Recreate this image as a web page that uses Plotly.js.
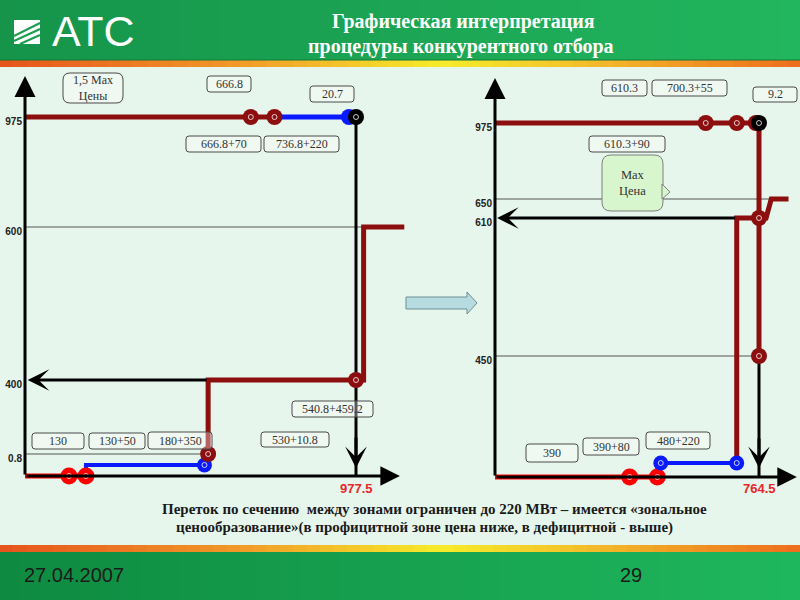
<!DOCTYPE html>
<html><head><meta charset="utf-8">
<script src="https://cdn.plot.ly/plotly-3.0.1.min.js"></script>
<style>html,body{margin:0;padding:0;background:#e6f6ec;}#chart{width:800px;height:600px;}</style>
</head><body><div id="chart"></div>
<script>
// ================= DATA =================
// price-axis tick labels
const leftPriceTicks  = [975, 600, 400, 0.8];
const leftPriceLabels = ['975', '600', '400', '0.8'];
const rightPriceTicks  = [975, 650, 610, 450];
const rightPriceLabels = ['975', '650', '610', '450'];

// ---- left zone: supply (offers), MW cumulative / price
const leftSupRedX  = [0, 180];            const leftSupRedY  = [0, 0];
const leftSupRedDotX = [130, 180];        const leftSupRedDotY = [0, 0];
const leftSupBlueX = [180, 180, 530];     const leftSupBlueY = [0, 0.4, 0.4];
const leftSupBlueDotX = [530];            const leftSupBlueDotY = [0.4];
const leftSupDarkX = [530, 540.8, 540.8, 1000, 1000, 1120];
const leftSupDarkY = [0.4, 0.8, 400, 400, 600, 600];
const leftSupDarkDotX = [540.8, 977.5];   const leftSupDarkDotY = [0.8, 400];
// ---- left zone: demand (bids)
const leftDemDarkX = [0, 736.8];          const leftDemDarkY = [975, 975];
const leftDemDarkDotX = [666.8, 736.8];
const leftDemBlueX = [736.8, 956.8];      const leftDemBlueY = [975, 975];
const leftDemBlueDotX = [956.8];
const leftDemBlackX = [956.8, 977.5];     const leftDemBlackY = [975, 975];
const leftDemBlackDotX = [977.5];
const leftDemVertX = [977.5, 977.5];      const leftDemVertY = [975, 0];
const leftFlowX = [540.8, 0];             const leftFlowPrice = 400;
const leftTotal = 977.5;

// ---- right zone: supply
const rightSupRedX = [0, 470];            const rightSupRedY = [0, 0];
const rightSupRedDotX = [390, 470];       const rightSupRedDotY = [0, 0];
const rightSupBlueX = [470, 470, 700];    const rightSupBlueY = [0, 0.4, 0.4];
const rightSupBlueDotX = [480, 700];      const rightSupBlueDotY = [0.4, 0.4];
const rightSupDarkX = [700, 700, 785, 800, 850];
const rightSupDarkY = [0.4, 610, 610, 650, 650];
const rightSupDarkDotX = [764.5];         const rightSupDarkDotY = [610];
// ---- right zone: demand
const rightDemDarkX = [0, 755.3];         const rightDemDarkY = [975, 975];
const rightDemDarkDotX = [610.3, 700.3, 755.3];
const rightDemBlackX = [755.3, 764.5];    const rightDemBlackY = [975, 975];
const rightDemBlackDotX = [764.5];
const rightDemVertX = [764.5, 764.5];     const rightDemVertY = [975, 450];
const rightDemVertDotX = [764.5];         const rightDemVertDotY = [450];
const rightDemLowX = [764.5, 764.5];      const rightDemLowY = [450, 0];
const rightFlowX = [700, 0];              const rightFlowPrice = 610;
const rightTotal = 764.5;

// callout texts
const leftBoxTexts  = ['1,5 Max<br>Цены', '666.8', '20.7', '666.8+70', '736.8+220', '540.8+459.2', '530+10.8', '130', '130+50', '180+350'];
const rightBoxTexts = ['610.3', '700.3+55', '9.2', '610.3+90', '390', '390+80', '480+220'];
const maxPriceText = 'Max<br>Цена';
const titleLines = ['Графическая интерпретация', 'процедуры конкурентного отбора'];
const noteLines = ['Переток по сечению  между зонами ограничен до 220 МВт – имеется «зональное',
                   'ценообразование»(в профицитной зоне цена ниже, в дефицитной - выше)'];
const footerDate = '27.04.2007';
const footerPage = '29';

// ================= STYLE / LAYOUT =================
const W = 800, H = 600;
const Xp = x => x / W, Yp = y => 1 - y / H;
const DARK = '#8c0e0e', RED = '#ff0000', BLUE = '#0a1aff', BLACK = '#000000';

// schematic (not-to-scale) price axes: price anchors -> vertical position
function schematic(prices, pos) {
  return p => {
    for (let i = 0; i < prices.length - 1; i++) {
      if (p <= prices[i + 1]) {
        const t = (p - prices[i]) / (prices[i + 1] - prices[i]);
        return pos[i] + t * (pos[i + 1] - pos[i]);
      }
    }
    return pos[pos.length - 1];
  };
}
const yL = schematic([0, 0.8, 400, 600, 975], [476, 454, 380, 227, 117]);
const yR = schematic([0, 0.8, 450, 610, 650, 975], [477, 449, 356, 218, 199, 123]);

// quantity axes (linear, MW)
const sL = 0.33862, oL = 25, sR = 0.34533, oR = 495, split = 410;

const traces = [];
function line(xs, ys, color, width, side) {
  const f = side === 'L' ? yL : yR;
  traces.push({type: 'scatter', mode: 'lines', x: xs, y: ys.map(f),
    xaxis: side === 'L' ? 'x' : 'x2', yaxis: side === 'L' ? 'y' : 'y2',
    line: {color: color, width: width, shape: 'linear'}, hoverinfo: 'skip'});
}
function dots(xs, ys, color, size, side, ring) {
  const f = side === 'L' ? yL : yR;
  const ax = side === 'L' ? 'x' : 'x2', ay = side === 'L' ? 'y' : 'y2';
  traces.push({type: 'scatter', mode: 'markers', x: xs, y: ys.map(f), xaxis: ax, yaxis: ay,
    marker: {color: color, size: size, line: {width: 0}}, hoverinfo: 'skip'});
  if (ring !== false) traces.push({type: 'scatter', mode: 'markers', x: xs, y: ys.map(f), xaxis: ax, yaxis: ay,
    marker: {symbol: 'circle-open', color: 'rgba(255,255,255,0.85)', size: 5, line: {width: 0.9, color: 'rgba(255,255,255,0.85)'}}, hoverinfo: 'skip'});
}
const rep = (arr, v) => arr.map(() => v);

// left panel
line(leftDemVertX, leftDemVertY, BLACK, 3, 'L');
line(leftSupRedX, leftSupRedY, RED, 5, 'L');
line(leftSupBlueX, leftSupBlueY, BLUE, 4, 'L');
line(leftSupDarkX, leftSupDarkY, DARK, 5, 'L');
line(leftDemDarkX, leftDemDarkY, DARK, 5, 'L');
line(leftDemBlueX, leftDemBlueY, BLUE, 5, 'L');
line(leftDemBlackX, leftDemBlackY, BLACK, 5, 'L');
dots(leftSupRedDotX, leftSupRedDotY, RED, 17, 'L');
dots(leftSupBlueDotX, leftSupBlueDotY, BLUE, 15, 'L');
dots(leftSupDarkDotX, leftSupDarkDotY, DARK, 16, 'L');
dots(leftDemDarkDotX, rep(leftDemDarkDotX, 975), DARK, 16, 'L');
dots(leftDemBlueDotX, rep(leftDemBlueDotX, 975), BLUE, 16, 'L', false);
dots(leftDemBlackDotX, rep(leftDemBlackDotX, 975), BLACK, 16, 'L');
// right panel
line(rightDemVertX, rightDemVertY, DARK, 5, 'R');
line(rightDemLowX, rightDemLowY, BLACK, 3, 'R');
line(rightSupRedX, rightSupRedY, RED, 5, 'R');
line(rightSupBlueX, rightSupBlueY, BLUE, 4, 'R');
line(rightSupDarkX, rightSupDarkY, DARK, 5, 'R');
line(rightDemDarkX, rightDemDarkY, DARK, 5, 'R');
line(rightDemBlackX, rightDemBlackY, BLACK, 5, 'R');
dots(rightSupRedDotX, rightSupRedDotY, RED, 17, 'R');
dots(rightSupBlueDotX, rightSupBlueDotY, BLUE, 15, 'R');
dots(rightSupDarkDotX, rightSupDarkDotY, DARK, 16, 'R');
dots(rightDemDarkDotX, rep(rightDemDarkDotX, 975), DARK, 16, 'R');
dots(rightDemVertDotX, rightDemVertDotY, DARK, 16, 'R');
dots(rightDemBlackDotX, rep(rightDemBlackDotX, 975), BLACK, 16, 'R');

// ---------- shapes ----------
const shapes = [];
function hexToRgb(h){return [1,3,5].map(i=>parseInt(h.substr(i,2),16));}
function grad(stops, t){
  for (let i=0;i<stops.length-1;i++){
    if (t<=stops[i+1][0]){const u=(t-stops[i][0])/(stops[i+1][0]-stops[i][0]);
      const a=hexToRgb(stops[i][1]), b=hexToRgb(stops[i+1][1]);
      return 'rgb('+a.map((v,k)=>Math.round(v+u*(b[k]-v))).join(',')+')';}
  }
  return stops[stops.length-1][1];
}
function band(y0, y1, stops, n){
  for (let i=0;i<n;i++){
    const x0=i*W/n, x1=(i+1)*W/n+0.6;
    shapes.push({type:'rect', xref:'paper', yref:'paper', x0:Xp(x0), x1:Xp(x1), y0:Yp(y1), y1:Yp(y0),
      fillcolor: grad(stops, (i+0.5)/n), line:{width:0}, layer:'below'});
  }
}
band(0, 60, [[0,'#15944a'],[1,'#22b65e']], 40);
band(60, 67, [[0,'#e6541c'],[0.3,'#f19a28'],[0.55,'#f6ec2a'],[0.72,'#f3c22a'],[1,'#ee6c1d']], 60);
band(545, 552, [[0,'#e6541c'],[0.3,'#f19a28'],[0.55,'#f6ec2a'],[0.72,'#f3c22a'],[1,'#ee6c1d']], 60);
band(552, 600, [[0,'#0e8a40'],[1,'#1fb85e']], 40);
shapes.push({type:'line', xref:'paper', yref:'paper', x0:0, x1:1, y0:Yp(60), y1:Yp(60), line:{color:'#0f7a3a', width:1}});

// logo icon
shapes.push({type:'path', xref:'paper', yref:'paper', fillcolor:'#ffffff', line:{width:0},
  path:`M${Xp(14)},${Yp(44)} L${Xp(14)},${Yp(20)} L${Xp(40)},${Yp(20)} L${Xp(40)},${Yp(44)} Z`});
[[14,36,40,23],[14,41,40,29],[20,44,40,35]].forEach(s=>shapes.push({type:'line', xref:'paper', yref:'paper',
  x0:Xp(s[0]), y0:Yp(s[1]), x1:Xp(s[2]), y1:Yp(s[3]), line:{color:'#1a9d4f', width:2}}));

function rr(x0,y0,x1,y1,r){
  return `M${Xp(x0+r)},${Yp(y0)} L${Xp(x1-r)},${Yp(y0)} Q${Xp(x1)},${Yp(y0)} ${Xp(x1)},${Yp(y0+r)} L${Xp(x1)},${Yp(y1-r)} Q${Xp(x1)},${Yp(y1)} ${Xp(x1-r)},${Yp(y1)} L${Xp(x0+r)},${Yp(y1)} Q${Xp(x0)},${Yp(y1)} ${Xp(x0)},${Yp(y1-r)} L${Xp(x0)},${Yp(y0+r)} Q${Xp(x0)},${Yp(y0)} ${Xp(x0+r)},${Yp(y0)} Z`;
}
const leftBoxPos = [[63,73,123,103],[207,76,251,92],[310,86,354,102],[186,136,261,152],[264,136,339,152],
                    [292,401,373,417],[261,432,329,447],[32,433,84,449],[89,433,145,449],[148,432,212,449]];
const rightBoxPos = [[602,80,647,96],[652,80,727,96],[753,87,797,102],[589,136,665,152],
                     [526,444,578,462],[583,438,639,455],[646,432,710,449]];
const annotations = [];
function txt(x, y, text, font, xanchor){
  annotations.push({xref:'paper', yref:'paper', x:Xp(x), y:Yp(y), text:text, showarrow:false,
    xanchor: xanchor || 'center', yanchor:'middle', font:font});
}
const serif = 'Liberation Serif, Times New Roman, serif';
const sans = 'Liberation Sans, Arial, sans-serif';
function box(b, text, r){
  shapes.push({type:'path', xref:'paper', yref:'paper', path: rr(b[0],b[1],b[2],b[3], r||3),
    fillcolor:'rgba(255,255,255,0.35)', line:{color:'#4a4a4a', width:1}});
  txt((b[0]+b[2])/2, (b[1]+b[3])/2, text, {family:serif, size:12, color:'#333'});
}
leftBoxTexts.forEach((t,i)=>box(leftBoxPos[i], t, i===0?7:3));
rightBoxTexts.forEach((t,i)=>box(rightBoxPos[i], t, 3));
// "Max Цена" callout with tail
shapes.push({type:'path', xref:'paper', yref:'paper', path: rr(602,155,663,211,9),
  fillcolor:'#d8f6cd', line:{color:'#7f7f7f', width:1}});
shapes.push({type:'path', xref:'paper', yref:'paper',
  path:`M${Xp(662)},${Yp(184)} L${Xp(670)},${Yp(192)} L${Xp(662)},${Yp(199)} Z`, fillcolor:'#d8f6cd', line:{color:'#7f7f7f', width:1}});
txt(632, 183, maxPriceText, {family:serif, size:12.5, color:'#333'});

// centre arrow
shapes.push({type:'path', xref:'paper', yref:'paper', fillcolor:'#b6dce2', line:{color:'#6d8f94', width:1},
  path:`M${Xp(406)},${Yp(297)} L${Xp(467)},${Yp(297)} L${Xp(467)},${Yp(292)} L${Xp(477)},${Yp(303)} L${Xp(467)},${Yp(314)} L${Xp(467)},${Yp(309)} L${Xp(406)},${Yp(309)} Z`});

// thin price level lines (data-referenced)
function hline(side, price, x0, x1){
  const f = side==='L'?yL:yR;
  shapes.push({type:'line', xref: side==='L'?'x':'x2', yref: side==='L'?'y':'y2', x0:x0, x1:x1, y0:f(price), y1:f(price),
    line:{color:'#555', width:1}, layer:'below'});
}
hline('L', 600, 0, 1120);
hline('L', 0.8, 0, 540.8);
hline('R', 650, 0, 820);
hline('R', 450, 0, 764.5);

// axes with arrows, flow arrows, arrow heads
function arrow(side, x, y, ax, ay, head, size, width){
  annotations.push({xref: side==='L'?'x':'x2', yref: side==='L'?'y':'y2', axref: side==='L'?'x':'x2', ayref: side==='L'?'y':'y2',
    x:x, y:y, ax:ax, ay:ay, text:'', showarrow:true, arrowhead:head, arrowsize:size, arrowwidth:width, arrowcolor:'#000', standoff:0});
}
arrow('L', 0, 76, 0, yL(0), 2, 1.4, 3);
arrow('L', 1107, yL(0), 0, yL(0), 2, 1.3, 3);
arrow('R', 0, 78, 0, yR(0), 2, 1.4, 3);
arrow('R', 874, yR(0), 0, yR(0), 2, 1.3, 3);
arrow('L', leftFlowX[1] + 8, yL(leftFlowPrice), leftFlowX[0], yL(leftFlowPrice), 3, 1.2, 3);
arrow('R', rightFlowX[1] + 6, yR(rightFlowPrice), rightFlowX[0], yR(rightFlowPrice), 3, 1.2, 3);
arrow('L', leftTotal, yL(0) - 8, leftTotal, yL(0) - 40, 3, 1.2, 3);
arrow('R', rightTotal, yR(0) - 9, rightTotal, yR(0) - 40, 3, 1.2, 3);

// totals
annotations.push({xref:'x', yref:'paper', x:leftTotal, y:Yp(488), yanchor:'middle', xanchor:'center', text:'977.5', showarrow:false,
  font:{family:sans, size:13, color:'#e8262a', weight:'bold'}});
annotations.push({xref:'x2', yref:'paper', x:rightTotal, y:Yp(488), yanchor:'middle', xanchor:'center', text:'764.5', showarrow:false,
  font:{family:sans, size:13, color:'#e8262a', weight:'bold'}});

// titles & texts
txt(463, 22, titleLines[0], {family:serif, size:20, color:'#ffffff', weight:'bold'});
txt(461, 46, titleLines[1], {family:serif, size:20, color:'#ffffff', weight:'bold'});
txt(93, 31, 'АТС', {family:sans, size:43, color:'#ffffff'});
txt(435, 509, noteLines[0], {family:serif, size:15, color:'#1a1a1a', weight:'bold'});
txt(424, 527, noteLines[1], {family:serif, size:15, color:'#1a1a1a', weight:'bold'});
txt(22, 575, footerDate, {family:sans, size:20, color:'#1a1a1a'}, 'left');
txt(631, 575, footerPage, {family:sans, size:20, color:'#1a1a1a'});

const tickFont = {family:sans, size:10, color:'#222', weight:'bold'};
const layout = {
  width: W, height: H, margin: {l:0, r:0, t:0, b:0},
  paper_bgcolor: '#e6f6ec', plot_bgcolor: 'rgba(0,0,0,0)', showlegend: false,
  xaxis:  {domain:[0, split/W], range:[-oL/sL, (split-oL)/sL], visible:false, fixedrange:true, anchor:'y'},
  xaxis2: {domain:[split/W, 1], range:[(split-oR)/sR, (W-oR)/sR], visible:false, fixedrange:true, anchor:'y2'},
  yaxis:  {domain:[0,1], range:[H,0], anchor:'free', position:oL/W, showgrid:false, zeroline:false, showline:false,
           ticks:'', tickvals: leftPriceTicks.map(yL), ticktext: leftPriceLabels, tickfont: tickFont, ticklabelstandoff: 3, ticklabelshift: -4, fixedrange:true},
  yaxis2: {domain:[0,1], range:[H,0], anchor:'free', position:oR/W, showgrid:false, zeroline:false, showline:false,
           ticks:'', tickvals: rightPriceTicks.map(yR), ticktext: rightPriceLabels, tickfont: tickFont, ticklabelstandoff: 3, ticklabelshift: -4, fixedrange:true},
  shapes: shapes, annotations: annotations
};
Plotly.newPlot('chart', traces, layout, {displayModeBar:false, staticPlot:true});
</script></body></html>
